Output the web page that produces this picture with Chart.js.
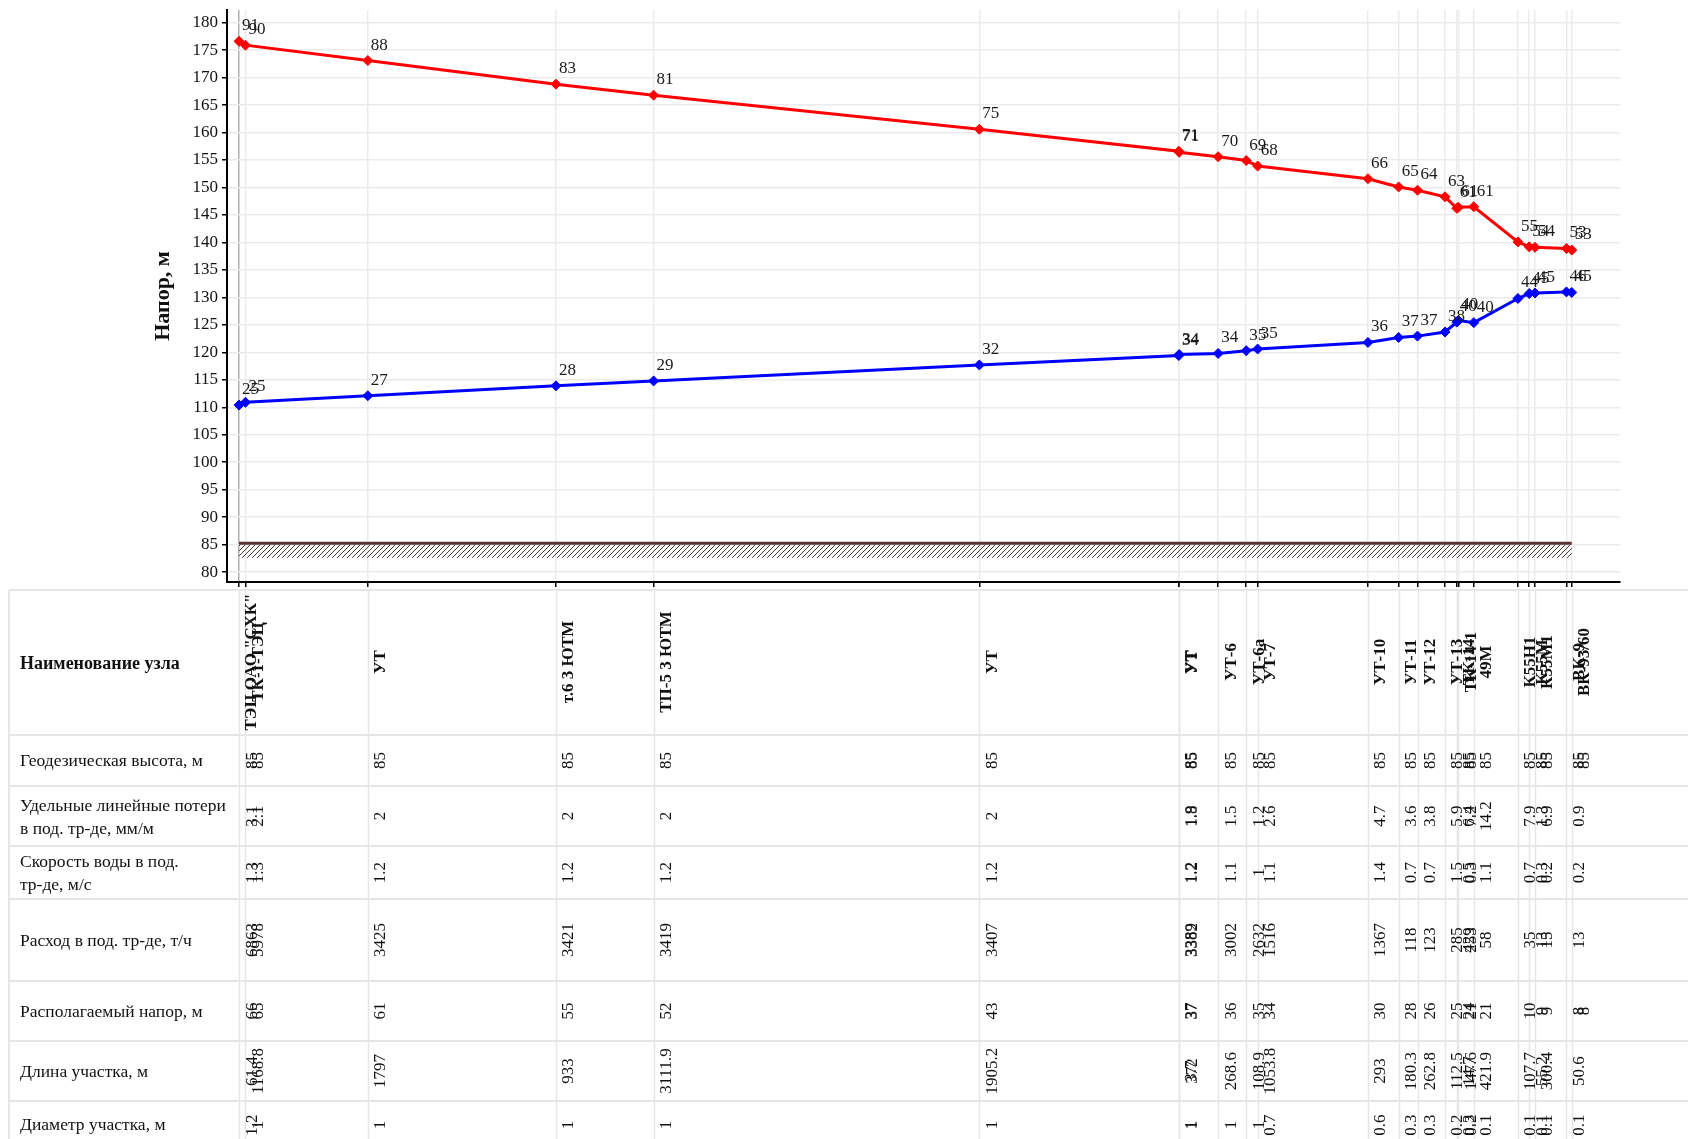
<!DOCTYPE html>
<html>
<head>
<meta charset="utf-8">
<script src="https://cdn.jsdelivr.net/npm/chart.js@4.4.1/dist/chart.umd.min.js"></script>
<style>
  html, body { margin: 0; padding: 0; background: #ffffff; }
  #wrap { width: 1688px; height: 1139px; position: relative; overflow: hidden; }
</style>
</head>
<body>
<div id="wrap"><canvas id="piezo" width="1688" height="1139"></canvas></div>
<script>
// Узлы трассы (по порядку от источника)
const nodeNames = [
  'ТЭЦ ОАО "СХК"', 'ТК-1-ТЭЦ', 'УТ', 'т.6 3 ЮТМ', 'ТП-5 3 ЮТМ', 'УТ', 'УТ', 'УТ',
  'УТ-6', 'УТ-6а', 'УТ-7', 'УТ-10', 'УТ-11', 'УТ-12', 'УТ-13', 'ТК-14', 'ТК-14-1',
  '49М', 'К55Н1', 'К55М', 'К55М1', 'ВК-9', 'ВК-93/60'
];

// Длина участка от узла до следующего, м
const segmentLength = [
  61.4, 1168.8, 1797, 933, 3111.9, 1905.2, 3.7, 372, 268.6, 108.9, 1053.8,
  293, 180.3, 262.8, 112.5, 14.7, 147.6, 421.9, 107.7, 55.2, 300.4, 50.6, null
];

// Напор в подающем трубопроводе, м
const supplyHead = [
  176.6, 175.9, 173.1, 168.8, 166.8, 160.6, 156.6, 156.4, 155.6, 154.9, 153.9,
  151.6, 150.1, 149.5, 148.3, 146.2, 146.4, 146.5, 140.1, 139.2, 139.1, 138.9, 138.6
];

// Напор в обратном трубопроводе, м
const returnHead = [
  110.4, 110.9, 112.1, 113.9, 114.8, 117.7, 119.4, 119.6, 119.8, 120.3, 120.6,
  121.8, 122.7, 122.95, 123.7, 125.5, 125.8, 125.4, 129.8, 130.7, 130.8, 131.0, 130.9
];

// Геодезическая высота, м
const groundLevel = [
  85, 85, 85, 85, 85, 85, 85, 85, 85, 85, 85, 85, 85, 85, 85, 85, 85, 85, 85, 85, 85, 85, 85
];

// Удельные линейные потери в под. тр-де, мм/м
const specificLoss = [
  '3.1', '2.1', '2', '2', '2', '2', '1.9', '1.8', '1.5', '1.2', '2.6', '4.7', '3.6', '3.8',
  '5.9', '6.4', '7.2', '14.2', '7.9', '1.3', '6.9', '0.9', ''
];

// Скорость воды в под. тр-де, м/с
const waterSpeed = [
  '1.3', '1.3', '1.2', '1.2', '1.2', '1.2', '1.2', '1.2', '1.1', '1', '1.1', '1.4', '0.7', '0.7',
  '1.5', '0.5', '0.3', '1.1', '0.7', '0.3', '0.2', '0.2', ''
];

// Расход в под. тр-де, т/ч
const flowRate = [
  '6863', '5978', '3425', '3421', '3419', '3407', '3389', '3382', '3002', '2632', '1516', '1367',
  '118', '123', '285', '429', '253', '58', '35', '13', '15', '13', ''
];

// Располагаемый напор, м
const availableHead = [
  '66', '65', '61', '55', '52', '43', '37', '37', '36', '35', '34', '30', '28', '26',
  '25', '24', '21', '21', '10', '9', '9', '8', '8'
];

// Диаметр участка, м
const pipeDiameter = [
  '1.2', '1', '1', '1', '1', '1', '1', '1', '1', '1', '0.7', '0.6', '0.3', '0.3',
  '0.2', '0.3', '0.2', '0.1', '0.1', '0.1', '0.1', '0.1', ''
];

// Нижняя граница штриховки грунта, м
const groundHatchBottom = 82.6;

// Положение узлов по длине трассы (нарастающим итогом)
const distance = [];
segmentLength.reduce((acc, len, i) => { distance[i] = acc; return acc + (len || 0); }, 0);

const SERIF = '"Liberation Serif", "Times New Roman", serif';

const supplyPoints = distance.map((d, i) => ({ x: d, y: supplyHead[i] }));
const returnPoints = distance.map((d, i) => ({ x: d, y: returnHead[i] }));

// Подписи у точек: напор над поверхностью земли
const pointLabels = {
  id: 'pointLabels',
  afterDatasetsDraw(chart) {
    const ctx = chart.ctx;
    ctx.save();
    ctx.font = '17px ' + SERIF;
    ctx.fillStyle = '#1a1a1a';
    ctx.textAlign = 'left';
    ctx.textBaseline = 'alphabetic';
    [supplyHead, returnHead].forEach((heads, di) => {
      const meta = chart.getDatasetMeta(di);
      meta.data.forEach((pt, i) => {
        const txt = String(Math.floor(heads[i] - groundLevel[i]));
        ctx.fillText(txt, pt.x + 3, pt.y - 11);
      });
    });
    ctx.restore();
  }
};

// Поверхность земли со штриховкой
const groundHatch = {
  id: 'groundHatch',
  beforeDatasetsDraw(chart) {
    const { ctx, scales: { x, y } } = chart;
    const pc = document.createElement('canvas');
    pc.width = 5; pc.height = 5;
    const p = pc.getContext('2d');
    p.strokeStyle = '#4a3838';
    p.lineWidth = 1;
    p.beginPath();
    p.moveTo(0, 5); p.lineTo(5, 0);
    p.moveTo(-1, 1); p.lineTo(1, -1);
    p.moveTo(4, 6); p.lineTo(6, 4);
    p.stroke();
    const pattern = ctx.createPattern(pc, 'repeat');
    const x0 = x.getPixelForValue(distance[0]);
    const x1 = x.getPixelForValue(distance[distance.length - 1]);
    const yTop = y.getPixelForValue(groundLevel[0]);
    const yBot = y.getPixelForValue(groundHatchBottom);
    ctx.save();
    ctx.fillStyle = pattern;
    ctx.fillRect(x0, yTop, x1 - x0, yBot - yTop);
    ctx.strokeStyle = '#5a3434';
    ctx.lineWidth = 3;
    ctx.beginPath();
    ctx.moveTo(x0, yTop - 1.5);
    ctx.lineTo(x1, yTop - 1.5);
    ctx.stroke();
    ctx.restore();
  }
};

// Таблица параметров под графиком
const tableRows = [
  { title: ['Геодезическая высота, м'], values: groundLevel.map(String), top: 735, bottom: 786 },
  { title: ['Удельные линейные потери', 'в под. тр-де, мм/м'], values: specificLoss, top: 786, bottom: 846 },
  { title: ['Скорость воды в под.', 'тр-де, м/с'], values: waterSpeed, top: 846, bottom: 899 },
  { title: ['Расход в под. тр-де, т/ч'], values: flowRate, top: 899, bottom: 981 },
  { title: ['Располагаемый напор, м'], values: availableHead, top: 981, bottom: 1041 },
  { title: ['Длина участка, м'], values: segmentLength.map(v => v == null ? '' : String(v)), top: 1041, bottom: 1101 },
  { title: ['Диаметр участка, м'], values: pipeDiameter, top: 1101, bottom: 1150 }
];

const nodeTable = {
  id: 'nodeTable',
  afterDraw(chart) {
    const { ctx, scales: { x } } = chart;
    const W = chart.width;
    const left = 9, headTop = 590, headBottom = 735, bottom = 1139;
    ctx.save();
    // рамка и разделители строк
    ctx.strokeStyle = '#e6e6e6';
    ctx.lineWidth = 2;
    const hLines = [headTop, headBottom].concat(tableRows.map(r => r.bottom));
    hLines.forEach(yy => {
      ctx.beginPath(); ctx.moveTo(left, yy); ctx.lineTo(W, yy); ctx.stroke();
    });
    ctx.beginPath(); ctx.moveTo(left, headTop); ctx.lineTo(left, bottom); ctx.stroke();
    // вертикальные линии узлов
    ctx.lineWidth = 1.5;
    distance.forEach(d => {
      const px = Math.round(x.getPixelForValue(d)) + 0.5;
      ctx.beginPath(); ctx.moveTo(px, headTop); ctx.lineTo(px, bottom); ctx.stroke();
    });

    // заголовки строк
    ctx.fillStyle = '#111';
    ctx.textAlign = 'left';
    ctx.textBaseline = 'middle';
    ctx.font = 'bold 18px ' + SERIF;
    ctx.fillText('Наименование узла', 20, 664);
    ctx.font = '17.5px ' + SERIF;
    tableRows.forEach(r => {
      const cy = r.bottom === 1150 ? 1125 : (r.top + r.bottom) / 2 + 1;
      if (r.title.length === 1) {
        ctx.fillText(r.title[0], 20, cy);
      } else {
        ctx.fillText(r.title[0], 20, cy - 11);
        ctx.fillText(r.title[1], 20, cy + 12);
      }
    });

    // значения по узлам (повёрнутый текст)
    const drawVert = (txt, cx, cy, font) => {
      if (!txt) return;
      ctx.save();
      ctx.translate(cx, cy);
      ctx.rotate(-Math.PI / 2);
      ctx.font = font;
      ctx.textAlign = 'center';
      ctx.textBaseline = 'middle';
      ctx.fillText(txt, 0, 0);
      ctx.restore();
    };
    distance.forEach((d, i) => {
      const cx = x.getPixelForValue(d) + 13;
      drawVert(nodeNames[i], cx, 662, 'bold 17px ' + SERIF);
      tableRows.forEach(r => {
        const cy = r.bottom === 1150 ? 1125 : (r.top + r.bottom) / 2;
        drawVert(r.values[i], cx, cy, '17px ' + SERIF);
      });
    });
    ctx.restore();
  }
};

new Chart(document.getElementById('piezo'), {
  type: 'line',
  data: {
    datasets: [
      {
        label: 'Подающий',
        data: supplyPoints,
        borderColor: '#ff0000',
        backgroundColor: '#ff0000',
        borderWidth: 3,
        pointStyle: 'rectRot',
        pointRadius: 5,
        pointBorderWidth: 1,
        tension: 0
      },
      {
        label: 'Обратный',
        data: returnPoints,
        borderColor: '#0000ff',
        backgroundColor: '#0000ff',
        borderWidth: 3,
        pointStyle: 'rectRot',
        pointRadius: 5,
        pointBorderWidth: 1,
        tension: 0
      }
    ]
  },
  options: {
    responsive: false,
    animation: false,
    devicePixelRatio: 1,
    layout: { padding: { left: 140, right: 68, top: 10, bottom: 552 } },
    plugins: {
      legend: { display: false },
      tooltip: { enabled: false }
    },
    scales: {
      x: {
        type: 'linear',
        min: -115,
        max: 13192,
        afterBuildTicks(scale) {
          scale.ticks = distance.map(v => ({ value: v }));
        },
        ticks: { display: false },
        grid: {
          color: (c) => (c.index === 0 ? '#b0b0b0' : '#ebebeb'),
          lineWidth: 1.5,
          tickColor: '#000',
          tickLength: 5,
          drawTicks: true
        },
        border: { color: '#000', width: 2 }
      },
      y: {
        min: 78.2,
        max: 182.3,
        afterFit(scale) {
          scale.width = 87;
          scale.paddingTop = 0;
          scale.paddingBottom = 0;
        },
        ticks: {
          stepSize: 5,
          includeBounds: false,
          padding: 4,
          color: '#111',
          font: { family: SERIF, size: 17 }
        },
        grid: {
          color: '#ebebeb',
          lineWidth: 1.5,
          tickColor: '#000',
          tickLength: 5
        },
        border: { color: '#000', width: 2 },
        title: {
          display: true,
          text: 'Напор, м',
          color: '#111',
          font: { family: SERIF, size: 22, weight: 'bold' },
          padding: { top: 10, bottom: 0 }
        }
      }
    }
  },
  plugins: [groundHatch, pointLabels, nodeTable]
});
</script>
</body>
</html>
